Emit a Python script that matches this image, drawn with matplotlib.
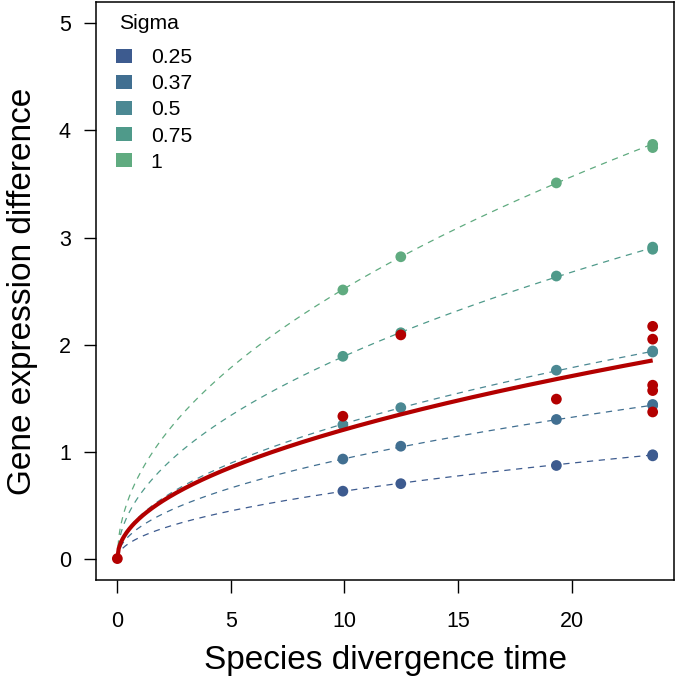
import numpy as np
import matplotlib
matplotlib.use("Agg")
import matplotlib.pyplot as plt
from matplotlib.patches import Patch

plt.rcParams["font.family"] = ["Liberation Sans", "DejaVu Sans"]

# divergence times of the sampled species pairs
times = [9.93, 12.48, 19.33, 23.57, 23.57]

sigmas = [0.25, 0.37, 0.5, 0.75, 1]
sigma_labels = ["0.25", "0.37", "0.5", "0.75", "1"]
sigma_colors = ["#3d5b8f", "#416f91", "#4b8893", "#4f9a8a", "#60ab80"]

# simulated expression differences, one row per sigma
sim_values = [
    [0.63, 0.70, 0.87, 0.97, 0.96],
    [0.93, 1.05, 1.30, 1.44, 1.43],
    [1.25, 1.41, 1.76, 1.94, 1.93],
    [1.89, 2.11, 2.64, 2.91, 2.89],
    [2.51, 2.82, 3.51, 3.87, 3.84],
]

# observed expression differences
obs_times = [0, 9.93, 12.48, 19.33, 23.57, 23.57, 23.57, 23.57, 23.57]
obs_values = [0, 1.33, 2.09, 1.49, 2.17, 2.05, 1.62, 1.57, 1.37]

# sigma of the fitted Brownian curve through the observed data
sigma_fit = 0.478

RED = "#b30000"


def expected_diff(t, sigma):
    # mean absolute difference under Brownian motion
    return sigma * np.sqrt(2 * t / np.pi)


fig = plt.figure(figsize=(6.77, 6.76), dpi=100)
ax = fig.add_axes([0.1418, 0.142, 0.8538, 0.855])

t_grid = np.linspace(0, max(times), 400)
for sigma, color in zip(sigmas, sigma_colors):
    ax.plot(t_grid, expected_diff(t_grid, sigma), color=color, lw=0.9,
            dashes=(5, 4.5), zorder=2)

for vals, color in zip(sim_values, sigma_colors):
    ax.scatter(times, vals, s=60, color=color, edgecolors="none", zorder=3)

ax.plot(t_grid, expected_diff(t_grid, sigma_fit), color=RED, lw=3,
        solid_capstyle="butt", zorder=4)
ax.scatter(obs_times, obs_values, s=60, color=RED, edgecolors="none",
           zorder=5)

ax.set_xlim(-0.94, 24.51)
ax.set_ylim(-0.2, 5.2)
ax.set_xticks([0, 5, 10, 15, 20])
ax.set_yticks([0, 1, 2, 3, 4, 5])
ax.tick_params(axis="both", direction="out", length=9, width=1,
               labelsize=15.5)
ax.tick_params(axis="x", pad=13)
ax.tick_params(axis="y", pad=9)
for sp in ax.spines.values():
    sp.set_linewidth(1.1)

ax.set_xlabel("Species divergence time", fontsize=24, labelpad=9.5)
ax.set_ylabel("Gene expression difference", fontsize=24, labelpad=15)

handles = [Patch(facecolor=c, edgecolor="none") for c in sigma_colors]
ax.legend(handles, sigma_labels, loc="upper left",
          bbox_to_anchor=(0.0346, 0.9204), borderaxespad=0, borderpad=0,
          frameon=False, fontsize=15.2, handlelength=0.77,
          handleheight=0.63, handletextpad=0.88, labelspacing=0.34)
ax.text(0.040, 0.9528, "Sigma", transform=ax.transAxes, fontsize=15.2,
        ha="left", va="baseline")

fig.savefig("out.png", dpi=100)
